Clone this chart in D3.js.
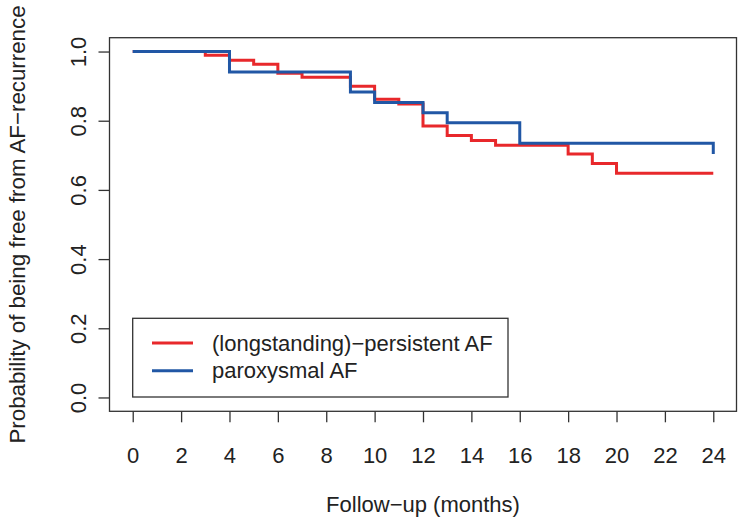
<!DOCTYPE html>
<html>
<head>
<meta charset="utf-8">
<script src="https://cdn.jsdelivr.net/npm/d3@7"></script>
<style>
body { margin: 0; background: #fff; }
text { font-family: "Liberation Sans", Arial, Helvetica, sans-serif; fill: #222; }
</style>
</head>
<body>
<script>
// Kaplan-Meier curves

var persistentTimes = [0, 3, 4, 5, 6, 7, 9, 10, 11, 12, 13, 14, 15, 18, 19, 20, 24];
var persistentSurv = [1, 0.989, 0.975, 0.963, 0.937, 0.926, 0.900, 0.862, 0.848, 0.785, 0.757, 0.743, 0.729, 0.704, 0.676, 0.648, 0.648];

var paroxTimes = [0, 4, 9, 10, 12, 13, 16, 24];
var paroxSurv = [1, 0.941, 0.883, 0.853, 0.823, 0.794, 0.735, 0.704];

var xTicks = [0, 2, 4, 6, 8, 10, 12, 14, 16, 18, 20, 22, 24];
var yTicks = [0, 0.2, 0.4, 0.6, 0.8, 1.0];
var legendLabels = ["(longstanding)\u2212persistent AF", "paroxysmal AF"];
var seriesColors = ["#e8282b", "#2157a5"];

var width = 741;
var height = 520;

var svg = d3.select("body").append("svg")
    .attr("width", width)
    .attr("height", height);

// R style: range padded by 4% each side
var x = d3.scaleLinear().domain([-0.96, 24.96]).range([109.5, 736.5]);
var y = d3.scaleLinear().domain([-0.04, 1.04]).range([411.3, 37.7]);

var frameColor = "#333";

var xAxis = svg.append("g")
    .attr("transform", "translate(0," + y.range()[0] + ")")
    .call(d3.axisBottom(x).tickValues(xTicks).tickSize(11).tickPadding(12).tickFormat(d3.format("d")));
xAxis.select(".domain").remove();
xAxis.selectAll("line").attr("stroke", frameColor).attr("stroke-width", 1.3);
xAxis.selectAll("text").attr("font-size", 22).attr("dy", null).attr("y", 52);

var yAxis = svg.append("g")
    .attr("transform", "translate(" + x.range()[0] + ",0)")
    .call(d3.axisLeft(y).tickValues(yTicks).tickSize(11).tickFormat(d3.format(".1f")));
yAxis.select(".domain").remove();
yAxis.selectAll("line").attr("stroke", frameColor).attr("stroke-width", 1.3);
yAxis.selectAll("text")
    .attr("font-size", 22)
    .attr("x", null).attr("dy", null)
    .attr("text-anchor", "middle")
    .attr("transform", "translate(-24,0) rotate(-90)");

// plot frame
svg.append("rect")
    .attr("x", x.range()[0])
    .attr("y", y.range()[1])
    .attr("width", x.range()[1] - x.range()[0])
    .attr("height", y.range()[0] - y.range()[1])
    .attr("fill", "none")
    .attr("stroke", frameColor)
    .attr("stroke-width", 1.3);

var line = d3.line()
    .x(function(d) { return x(d[0]); })
    .y(function(d) { return y(d[1]); })
    .curve(d3.curveStepAfter);

function drawCurve(times, surv, color) {
    svg.append("path")
        .datum(d3.zip(times, surv))
        .attr("d", line)
        .attr("fill", "none")
        .attr("stroke", color)
        .attr("stroke-width", 3);
}

drawCurve(persistentTimes, persistentSurv, seriesColors[0]);
drawCurve(paroxTimes, paroxSurv, seriesColors[1]);

// axis titles
svg.append("text")
    .attr("x", (x.range()[0] + x.range()[1]) / 2)
    .attr("y", 512)
    .attr("text-anchor", "middle")
    .attr("font-size", 22)
    .text("Follow\u2212up (months)");

svg.append("text")
    .attr("transform", "translate(24.5," + ((y.range()[0] + y.range()[1]) / 2) + ") rotate(-90)")
    .attr("text-anchor", "middle")
    .attr("font-size", 22.3)
    .text("Probability of being free from AF\u2212recurrence");

// legend
var legend = svg.append("g");
legend.append("rect")
    .attr("x", 132.7)
    .attr("y", 318.3)
    .attr("width", 375.3)
    .attr("height", 78.7)
    .attr("fill", "#fff")
    .attr("stroke", frameColor)
    .attr("stroke-width", 1.3);

legendLabels.forEach(function(lab, i) {
    var ly = 343 + i * 27.7;
    legend.append("line")
        .attr("x1", 152).attr("x2", 193)
        .attr("y1", ly).attr("y2", ly)
        .attr("stroke", seriesColors[i])
        .attr("stroke-width", 3);
    legend.append("text")
        .attr("x", 212)
        .attr("y", ly)
        .attr("dy", "0.35em")
        .attr("font-size", 22)
        .text(lab);
});
</script>
</body>
</html>
